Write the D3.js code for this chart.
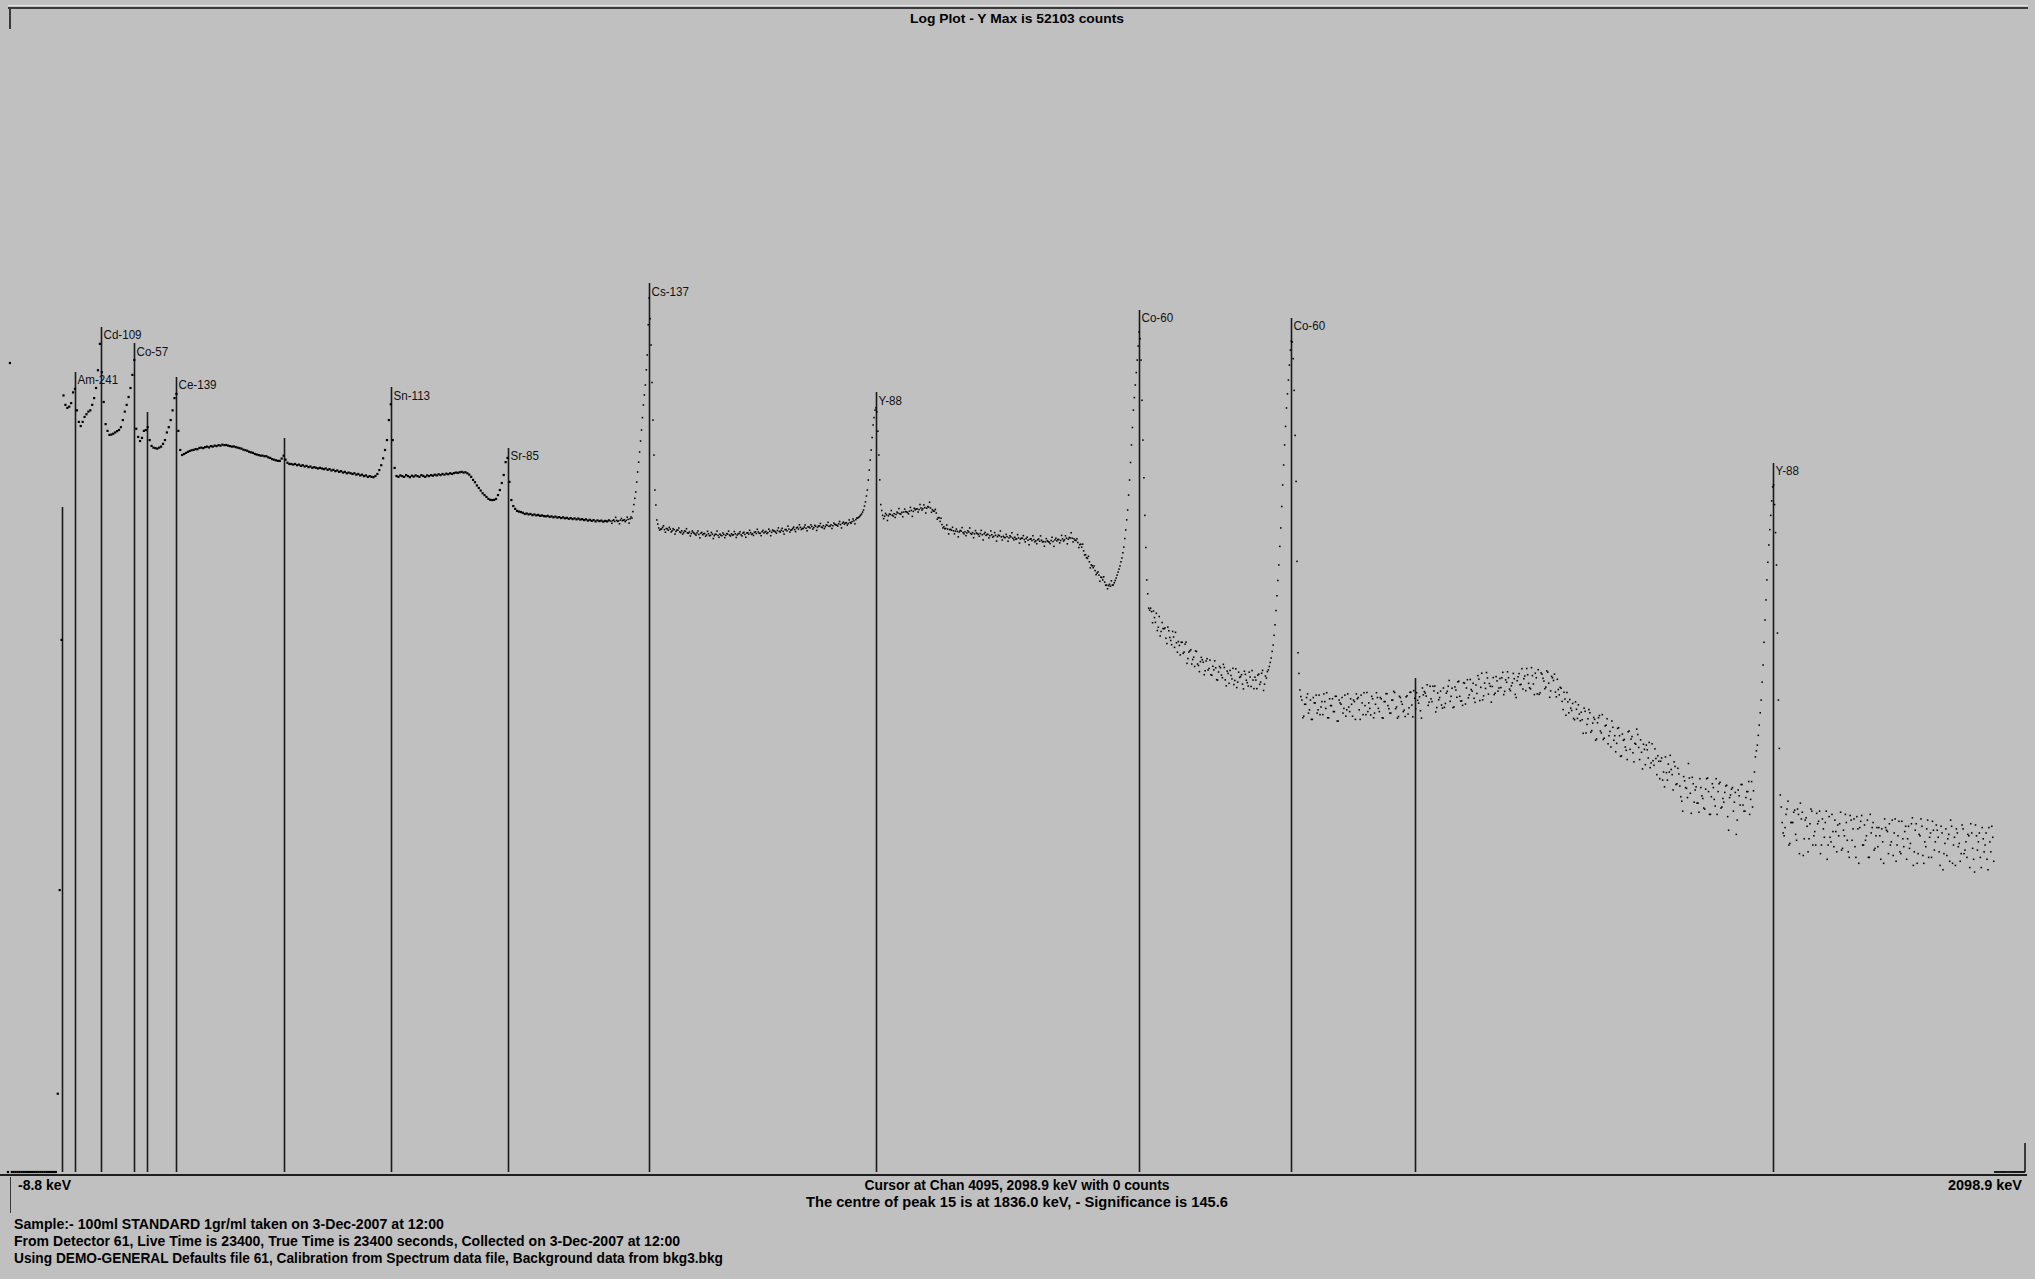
<!DOCTYPE html>
<html><head><meta charset="utf-8">
<script src="https://cdn.jsdelivr.net/npm/d3@7"></script>
<style>
html,body{margin:0;padding:0;background:#c0c0c0;}
svg{display:block;}
</style></head><body>
<svg id="chart" width="2035" height="1279"></svg>
<script>
// ---------------- DATA ----------------
const titleText = "Log Plot - Y Max is 52103 counts";
const yMaxCounts = 52103;
const energyMin = -8.8, energyMax = 2098.9;
const sampleStep = 2; // keV between samples inside one array

// spectrum counts (main samples)
const segAStart = -8.8;
const segACounts = [
0,22700,0,0,0,0,0,0,0,0,
0,0,0,0,0,0,0,0,0,0,
0,0,0,0,0,0,2,27,660,15000,
13300,12800,13000,13600,15600,16300,12400,10700,10150,10700,
11400,11800,12200,12400,13300,14500,16500,20700,29000,20200,
13800,10400,9540,9060,9100,9200,9350,9500,9650,10000,
10950,12200,13300,14700,16500,19500,23600,9800,8830,8380,
8720,9540,9640,10000,8480,7870,7700,7650,7600,7700,
7800,8080,8480,9350,10000,10950,12400,14500,15300,9540,
7470,7010,7100,7200,7300,7380,7450,7480,7560,7540,
7670,7700,7650,7750,7800,7720,7850,7800,7900,7850,
7950,7900,8000,7950,7960,7900,7850,7800,7820,7750,
7700,7650,7600,7500,7450,7400,7300,7250,7200,7100,
7050,7000,6950,6950,6900,6900,6800,6750,6650,6600,
6550,6500,6500,6700,6950,6600,6350,6250,6250,6200,
6250,6150,6200,6100,6150,6050,6100,6000,6050,5950,
6000,5950,5900,5950,5900,5850,5900,5800,5850,5750,
5800,5700,5750,5650,5700,5600,5650,5550,5600,5550,
5500,5550,5450,5500,5400,5450,5350,5400,5300,5350,
5300,5280,5360,5500,5780,6150,6720,7470,8480,10950];

const segBStart = 391.2;
const segBCounts = [
13400,8480,5940,5360,5300,5400,5350,5300,5420,5350,
5280,5380,5320,5400,5350,5300,5420,5360,5300,5400,
5350,5420,5380,5450,5400,5480,5420,5500,5450,5520,
5480,5550,5500,5560,5600,5580,5620,5650,5600,5620,
5550,5450,5300,5100,4950,4750,4600,4450,4300,4200,
4100,4000,3950,3940,3950,4000,4200,4480,4900,5430,
6400,6750,4970,3940,3650,3520,3430,3400,3380,3350,
3300,3320,3280,3300,3250,3280,3240,3260,3220,3240,
3210,3200,3220,3180,3200,3160,3190,3150,3170,3130,
3160,3120,3140,3100,3130,3090,3120,3080,3110,3070,
3090,3050,3080,3030,3060,3020,3050,3000,3040,3010,
3030,2990,3020,3000,3040,3010,3030,3000,3040,3020,
3050,3030,3060,3040,3080,3100,3130,3720,4370,5640,
7280,9640,13280,17140,25160,52103,28590,10950,4480,3055,
2760,2720,2780,2700,2740,2680,2720,2660,2700,2640,
2680,2620,2660,2600,2640,2590,2620,2570,2610,2550,
2590,2540,2580,2530,2570,2520,2560,2510,2550,2500,
2540,2510,2550,2500,2540,2510,2550,2520,2560,2530,
2560,2520,2570,2530,2580,2540,2590,2550,2600,2560,
2610,2570,2620,2580,2630,2590,2640,2600,2650,2610,
2660,2620,2670,2640,2680,2640,2700,2660,2720,2680,
2740,2700,2760,2720,2780,2740,2790,2750,2800,2760,
2810,2770,2820,2780,2830,2790,2840,2800,2850,2820,
2870,2840,2890,2860,2910,2880,2930,2900,2950,2920,
2960,2990,3020,3070,3130,3200,3300,3470,3850,4480];

const segCStart = 891.2;
const segCCounts = [
5780,7470,10280,12440,12160,7010,3720,3240,3200,3260,
3220,3280,3250,3310,3280,3340,3310,3370,3380,3400,
3360,3420,3450,3410,3480,3520,3490,3560,3530,3580,
3550,3600,3560,3480,3420,3340,3150,3000,2880,2800,
2740,2720,2700,2680,2660,2650,2640,2620,2650,2600,
2630,2590,2620,2570,2600,2560,2590,2540,2570,2530,
2560,2510,2540,2500,2530,2480,2510,2470,2500,2460,
2480,2440,2470,2430,2460,2420,2450,2400,2430,2390,
2420,2380,2410,2360,2390,2350,2380,2340,2370,2330,
2360,2320,2310,2340,2300,2350,2320,2370,2340,2380,
2350,2400,2370,2420,2390,2430,2420,2400,2350,2290,
2230,2160,2060,1960,1870,1790,1720,1660,1600,1550,
1510,1470,1420,1380,1330,1320,1310,1330,1370,1455,
1570,1700,1880,2160,2690,3470,5090,7970,12440,17140,
23570,33700,23570,8480,3240,1420,990,990,822,878,
927,776,694,824,761,674,778,681,621,685,
727,564,615,640,556,625,489,565,582,514,
470,569,476,500,512,423,504,449,510,420,
450,462,395,470,421,483,396,443,379,419,
459,393,359,437,413,375,442,394,366,411,
446,354,395,421,374,431,346,416,440,470,
524,618,800,1160,1720,2760,4780,7970,12780,18260,
26780,29700,16000,5000,560,348,306,249,290,331,
270,239,316,295,259,326,280,254,300,336,
244,285,311,264,321,234,295,316,275,249];

const segDStart = 1391.2;
const segDCounts = [
331,264,290,306,239,311,270,326,254,285,
337,295,253,311,259,336,275,316,244,300,
332,285,259,306,342,274,243,321,300,264,
248,323,277,338,247,313,336,294,267,357,
341,322,286,365,300,344,263,335,316,287,
357,293,342,393,321,278,362,317,389,302,
286,380,357,315,398,343,313,371,418,304,
431,323,355,406,378,298,408,334,391,357,
359,436,342,384,407,345,381,402,316,412,
372,457,402,345,423,358,463,376,431,331,
329,433,404,354,444,380,344,407,426,319,
350,360,301,338,252,299,308,268,242,299,
242,256,262];

const segEStart = 1637.2;
const segECounts = [
200,265,224,271,203,228,239,186,244,206,
254,188,222,175,205,234,183,158,213,194,
150,183,168,143,206,186,156,176,211,167,
184,127,163,172,146,129,175,133,145,150,
112,146,122,148,110,122,126,97,131,105,
119,89,74,109,99,136,93,114,83,101,
82,112,90,77,98,113,71,89,100,79,
71,105,77,87,94,103,58,91,100,83,
55,97,80,104,74,88,95,71,108,96,
148,172,222,306,479,851,1420,2220,3240,4660,
3720,1718,306,91];

const segFStart = 1845.2;
const segFCounts = [
64,54,71,84,49,64,73,55,76,43,
67,42,66,61,52,76,48,57,72,65,
43,67,53,74,48,53,71,47,57,62,
63,45,58,71,51,41,66,59,47,69,
38,65,48,62,54,41,71,60,45,54,
47,54,59,38,60,57,63,50,42,67,
48,65,43,52,57,40,61,49,68,44,
63,43,54,61,38,47,66,53,41,58,
50,58,44,61,35,49,42,55,66,38,
53,59,47,39,62,43,50,55,36,56,
40,62,45,56,36,52,48,40,60,44,
53,0,0,0,0,0,0,0,0,0,
0,0,0,0,0,0,0];

// in-between samples (1 keV after each main sample) from 622 keV upwards
const halfBStart = 622.2;
const halfBCounts = [
2930,3060,3160,3000,2910,3115,3045,2990,3165,2935,
3175,3400,4030,4960,6400,8380,11300,15100,20800,37000,
40000,17700,7000,3700,2900,2685,2722,2836,2611,2724,
2781,2623,2734,2550,2687,2756,2600,2551,2659,2733,
2579,2491,2655,2580,2519,2655,2432,2606,2563,2481,
2642,2497,2606,2411,2545,2651,2449,2512,2588,2437,
2568,2649,2489,2520,2634,2443,2563,2627,2491,2611,
2450,2596,2678,2541,2507,2629,2712,2574,2501,2675,
2615,2568,2717,2499,2688,2653,2579,2761,2620,2745,
2550,2707,2825,2619,2696,2788,2634,2781,2874,2705,
2737,2867,2664,2794,2869,2720,2851,2674,2833,2922,
2773,2735,2867,2963,2817,2741,2937,2875,2827,2996,
2760,2973,2940,2862,3058,2930,3095,2908,3131,3165,
3250,3380,3650,4150,5090];

const halfCStart = 892.2;
const halfCCounts = [
6570,8760,11300,12800,9500,5100,3450,3107,3320,3036,
3296,3448,3211,3157,3380,3534,3293,3186,3509,3390,
3305,3588,3199,3547,3514,3382,3722,3470,3704,3340,
3625,3831,3372,3426,3498,3086,3140,3125,2760,2731,
2864,2558,2709,2782,2562,2719,2464,2672,2772,2560,
2500,2660,2758,2549,2436,2665,2565,2483,2675,2367,
2606,2543,2432,2656,2452,2600,2333,2520,2654,2366,
2443,2541,2330,2496,2594,2367,2391,2533,2275,2422,
2501,2311,2452,2225,2403,2497,2310,2256,2399,2493,
2307,2185,2406,2320,2260,2449,2181,2421,2377,2282,
2508,2335,2496,2253,2444,2595,2309,2358,2401,2149,
2241,2243,1954,1888,1920,1657,1702,1698,1520,1573,
1396,1465,1478,1327,1269,1343,1403,1331,1410,1510,
1630,1790,2010,2410,3060,4200,6370,9960,14600,20100,
28200,31000,14100,5240,2150,1190,965,947,954,826,
744,890,735,763,769,630,742,655,735,600,
636,646,545,640,565,641,520,573,485,529,
573,485,440,528,496,445,519,458,423,471,
505,397,438,462,407,464,367,430,447,401,
373,456,385,409,423,353,425,382,437,364,
395,410,354,426,385,447,375,405,450,495,
570,700,960,1410,2180,3630,6170,10100,15300,22100,
30000,24000,9000,1800,430,320,244,290,316,259,
306,239,295,326,270,254,300,331,275,244,
311,285,264,321,234,306,290,259,326,270];

const halfDStart = 1392.2;
const halfDCounts = [
280,311,249,300,331,316,239,295,336,254,
264,275,321,244,290,316,264,311,243,300,
332,274,259,306,337,280,248,316,290,269,
319,256,338,287,345,274,305,319,243,327,
335,372,298,311,365,366,278,307,343,276,
279,334,365,301,356,280,348,386,321,303,
382,291,397,327,350,379,297,333,400,360,
307,380,435,330,365,364,328,413,343,403,
407,328,396,439,352,367,430,329,392,429,
374,352,416,458,379,353,418,328,407,451,
336,426,390,361,437,317,414,393,339,399,
327,356,271,310,337,260,276,293,238,272,
288,235,238];

const halfEStart = 1638.2;
const halfECounts = [
276,201,241,260,207,245,183,229,251,201,
185,220,241,194,168,216,194,176,215,149,
198,185,161,204,163,192,139,174,197,143,
157,174,134,162,178,137,141,164,118,140,
140,110,101,121,135,151,118,139,104,128,
102,84,115,100,88,113,72,105,97,82,
73,100,87,76,112,95,71,105,86,112,
95,107,78,83,102,69,88,98,74,94,
66,90,104,80,74,95,108,86,78,122,
160,195,260,385,640,1100,1780,2700,3900,4780,
2600,720,165,78];

const halfFStart = 1846.2;
const halfFCounts = [
56,60,76,48,64,64,75,51,71,82,
73,52,68,44,63,74,54,48,63,74,
48,59,64,40,69,50,57,66,44,54,
73,46,54,64,44,70,51,67,41,59,
60,70,48,51,66,41,56,64,46,60,
60,40,50,67,58,43,48,66,56,39,
54,44,65,47,61,52,46,63,37,58,
38,55,67,42,50,59,41,56,65,45,
62,53,37,56,43,59,52,39,61,48,
37,56,49,43,59,45,41,54,63,46,
34,54,50,41,60,44,56,35,50,61,
39,0,0,0,0,0,0,0,0,0,
0,0,0,0,0,0,0];

// peak markers (energy keV, marker top in counts, label)
const markerEnergies = [47.6, 60.9, 88.1, 122.6, 136.8, 166.8, 279.6, 391.0, 513.2, 661.0, 898.2, 1173.1, 1332.3, 1461.5, 1835.6];
const markerTops = [3610, 20250, 35970, 29300, 12140, 19000, 8710, 16700, 7670, 63100, 15670, 44700, 40360, 406, 6330];
const markerLabels = ["", "Am-241", "Cd-109", "Co-57", "", "Ce-139", "", "Sn-113", "Sr-85", "Cs-137", "Y-88", "Co-60", "Co-60", "", "Y-88"];

const cursorEnergy = 2098.9;
const cursorLine1 = "Cursor at Chan 4095, 2098.9 keV with 0 counts";
const cursorLine2 = "The centre of peak 15 is at 1836.0 keV,  -  Significance is  145.6";
const axisLeftLabel = "-8.8 keV";
const axisRightLabel = "2098.9 keV";
const infoLines = [
  "Sample:- 100ml STANDARD 1gr/ml taken on  3-Dec-2007 at 12:00",
  "From Detector 61, Live Time is 23400, True Time is 23400 seconds, Collected on  3-Dec-2007 at 12:00",
  "Using DEMO-GENERAL Defaults file 61, Calibration from Spectrum data file,  Background data from bkg3.bkg"
];

// ---------------- DRAW ----------------
const svg = d3.select("#chart");
const W = 2035, H = 1279;
const plotLeft = 8, plotRight = 2025, plotBottom = 1172;

svg.append("rect").attr("width", W).attr("height", H).attr("fill", "#c0c0c0");

const x = d3.scaleLinear().domain([energyMin, energyMax]).range([plotLeft, plotRight]);
const y = d3.scaleLog().domain([1, yMaxCounts]).range([1148, 298]);
const yPos = c => c > 0 ? y(c) : plotBottom;

// frame
svg.append("rect").attr("x", 8).attr("y", 5).attr("width", 2020).attr("height", 1).attr("fill", "#e4e4e4");
svg.append("rect").attr("x", 8).attr("y", 7).attr("width", 2020).attr("height", 2).attr("fill", "#3a3a3a");
svg.append("rect").attr("x", 9).attr("y", 7).attr("width", 2).attr("height", 22).attr("fill", "#3a3a3a");
svg.append("rect").attr("x", 0).attr("y", 1174).attr("width", 2027).attr("height", 2).attr("fill", "#1e1e1e");
svg.append("rect").attr("x", 10).attr("y", 1177).attr("width", 1).attr("height", 36).attr("fill", "#3a3a3a");

// markers
const markers = markerEnergies.map((e, k) => ({e, top: markerTops[k], label: markerLabels[k]}));
svg.append("g").selectAll("line").data(markers).join("line")
  .attr("x1", d => Math.round(x(d.e)) + 0.5).attr("x2", d => Math.round(x(d.e)) + 0.5)
  .attr("y1", plotBottom).attr("y2", d => y(d.top))
  .attr("stroke", "#1a1a1a").attr("stroke-width", 1.6);

// cursor
svg.append("line").attr("x1", x(cursorEnergy)).attr("x2", x(cursorEnergy))
  .attr("y1", plotBottom).attr("y2", y(1) - 5).attr("stroke", "#1a1a1a").attr("stroke-width", 1.6);

// spectrum dots
const segments = [
  [segAStart, segACounts], [segBStart, segBCounts], [segCStart, segCCounts],
  [segDStart, segDCounts], [segEStart, segECounts], [segFStart, segFCounts],
  [halfBStart, halfBCounts], [halfCStart, halfCCounts], [halfDStart, halfDCounts],
  [halfEStart, halfECounts], [halfFStart, halfFCounts]];
const points = segments.flatMap(([s, arr]) => arr.map((c, k) => ({e: s + k * sampleStep, c})));
const dotSize = d => d.e < 620 ? 2.2 : 1.55;
svg.append("g").selectAll("rect").data(points).join("rect")
  .attr("x", d => x(d.e) - dotSize(d) / 2).attr("y", d => yPos(d.c) - dotSize(d) / 2)
  .attr("width", dotSize).attr("height", dotSize).attr("fill", "#000");

// marker labels
const lab = svg.append("g").selectAll("text").data(markers.filter(d => d.label)).join("text")
  .attr("x", d => Math.round(x(d.e)) + 2.5).attr("y", d => y(d.top) + 12.5)
  .attr("font-family", "'Liberation Sans', Arial, sans-serif").attr("font-size", 13.5)
  .attr("fill", "#111").text(d => d.label);
lab.each(function() {
  const w = this.getComputedTextLength();
  d3.select(this).attr("textLength", w * 0.86).attr("lengthAdjust", "spacingAndGlyphs");
});

// texts
function txt(str, xx, yy, anchor, len, size) {
  svg.append("text").attr("x", xx).attr("y", yy).attr("text-anchor", anchor)
    .attr("font-family", "'Liberation Sans', Arial, sans-serif").attr("font-size", size)
    .attr("font-weight", "bold").attr("fill", "#000")
    .attr("textLength", len).attr("lengthAdjust", "spacingAndGlyphs").text(str);
}
txt(titleText, 1017, 23, "middle", 214, 13.5);
txt(cursorLine1, 1017, 1190, "middle", 305, 14);
txt(cursorLine2, 1017, 1207, "middle", 422, 14);
txt(axisLeftLabel, 18, 1190, "start", 53, 14);
txt(axisRightLabel, 2022, 1190, "end", 74, 14);
txt(infoLines[0], 14, 1229, "start", 430, 14);
txt(infoLines[1], 14, 1246, "start", 666, 14);
txt(infoLines[2], 14, 1263, "start", 709, 14);
</script>
</body></html>
